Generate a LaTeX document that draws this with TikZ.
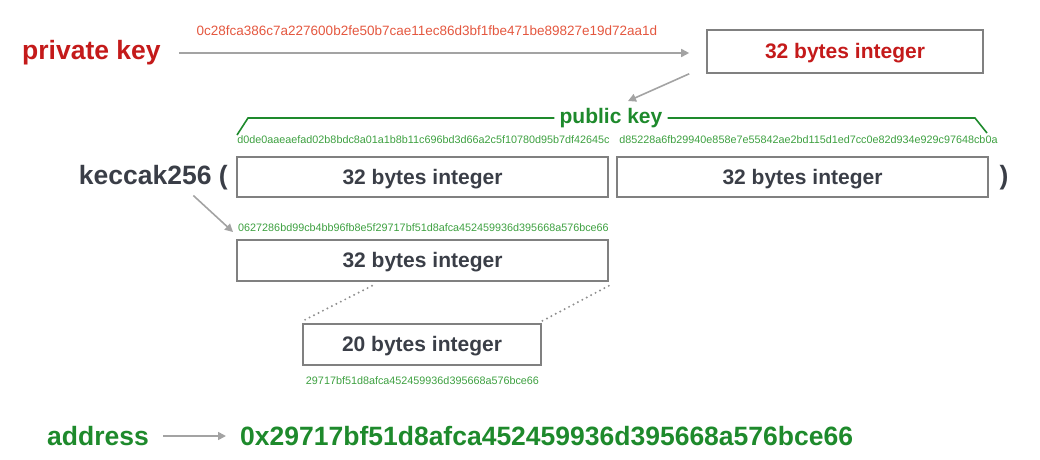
\documentclass[tikz,border=0pt]{standalone}
\usepackage{fontspec}
\setmainfont{Liberation Sans}
\usetikzlibrary{arrows.meta}
\definecolor{keyred}{HTML}{C41A1A}
\definecolor{hexred}{HTML}{E4573F}
\definecolor{keygreen}{HTML}{1E8A2C}
\definecolor{hexgreen}{HTML}{3DA040}
\definecolor{txtgray}{HTML}{3A3E47}
\definecolor{linegray}{HTML}{A3A3A3}
\definecolor{boxgray}{HTML}{808080}
\definecolor{dotgray}{HTML}{8F8F8F}
\begin{document}
\begin{tikzpicture}[x=1pt,y=-1pt,
  intbox/.style={draw=boxgray, line width=1.6pt, minimum height=41pt, inner sep=0pt,
    text height=17pt, text depth=3pt,
    font=\fontsize{21}{24}\selectfont\bfseries, text=txtgray},
  hexsmall/.style={font=\fontsize{10.8}{13}\selectfont, inner sep=0pt, text=hexgreen},
  big/.style={font=\fontsize{26.5}{30}\selectfont\bfseries, inner sep=0pt},
  garrow/.style={draw=linegray, line width=1.6pt, -{Triangle[length=8pt,width=8pt]}},
  brace/.style={draw=keygreen, line width=1.6pt},
  dotline/.style={draw=dotgray, line width=2.2pt, line cap=round, dash pattern=on 0pt off 5pt}
]
\useasboundingbox (0,0) rectangle (1040,459);

% private key row
\node[big, text=keyred, anchor=west] (priv) at (22,53) {private key};
\node[font=\fontsize{13.5}{15}\selectfont, inner sep=0pt, text=hexred] (privhex) at (427,31)
  {0c28fca386c7a227600b2fe50b7cae11ec86d3bf1fbe471be89827e19d72aa1d};
\node[intbox, minimum width=276pt, minimum height=43pt, text=keyred] (top) at (845,51.5) {32 bytes integer};
\draw[garrow] ([xshift=18pt]priv.east) -- ([xshift=-17pt,yshift=-1.5pt]top.west);

% public key
\node[font=\fontsize{21}{24}\selectfont\bfseries, inner sep=0pt, text=keygreen] (pub) at (611,118) {public key};
\draw[garrow] ([xshift=-17pt]top.south west) -- ([xshift=17pt,yshift=7pt]pub.north);
\draw[brace] (237,135) -- (248,118) -- ([xshift=-5pt]pub.west);
\draw[brace] ([xshift=5pt]pub.east) -- (975,118) -- (987,133);
\node[hexsmall] (pubhexa) at (423.5,140) {d0de0aaeaefad02b8bdc8a01a1b8b11c696bd3d66a2c5f10780d95b7df42645c};
\node[hexsmall] (pubhexb) at (808.5,140) {d85228a6fb29940e858e7e55842ae2bd115d1ed7cc0e82d934e929c97648cb0a};

% keccak row
\node[big, text=txtgray, anchor=east] (kec) at (228,178) {keccak256 (};
\node[intbox, minimum width=371pt, minimum height=40pt] (pa) at (422.5,177) {32 bytes integer};
\node[intbox, minimum width=371pt, minimum height=40pt] (pb) at (802.5,177) {32 bytes integer};
\node[big, text=txtgray] (close) at (1004,178) {)};

% hash
\node[hexsmall] (hash) at (423.5,228) {0627286bd99cb4bb96fb8e5f29717bf51d8afca452459936d395668a576bce66};
\draw[garrow] ([xshift=40pt,yshift=-5pt]kec.south) -- ([xshift=-5pt,yshift=-4pt]hash.west);
\node[intbox, minimum width=371pt] (mid) at (422.5,260.5) {32 bytes integer};

% 20 bytes
\node[intbox, minimum width=238pt] (small) at (422,344.5) {20 bytes integer};
\draw[dotline] ([xshift=-50.5pt,yshift=-4pt]mid.south) -- ([yshift=2pt]small.north west);
\draw[dotline] ([yshift=-4pt]mid.south east) -- ([yshift=2pt]small.north east);
\node[hexsmall] (addrhex) at (422.5,381) {29717bf51d8afca452459936d395668a576bce66};

% address
\node[big, text=keygreen, anchor=west] (addr) at (47,436) {address};
\node[big, text=keygreen, anchor=west] (addrval) at (240,436) {0x29717bf51d8afca452459936d395668a576bce66};
\draw[garrow] ([xshift=14pt]addr.east) -- ([xshift=-14pt]addrval.west);
\end{tikzpicture}
\end{document}
